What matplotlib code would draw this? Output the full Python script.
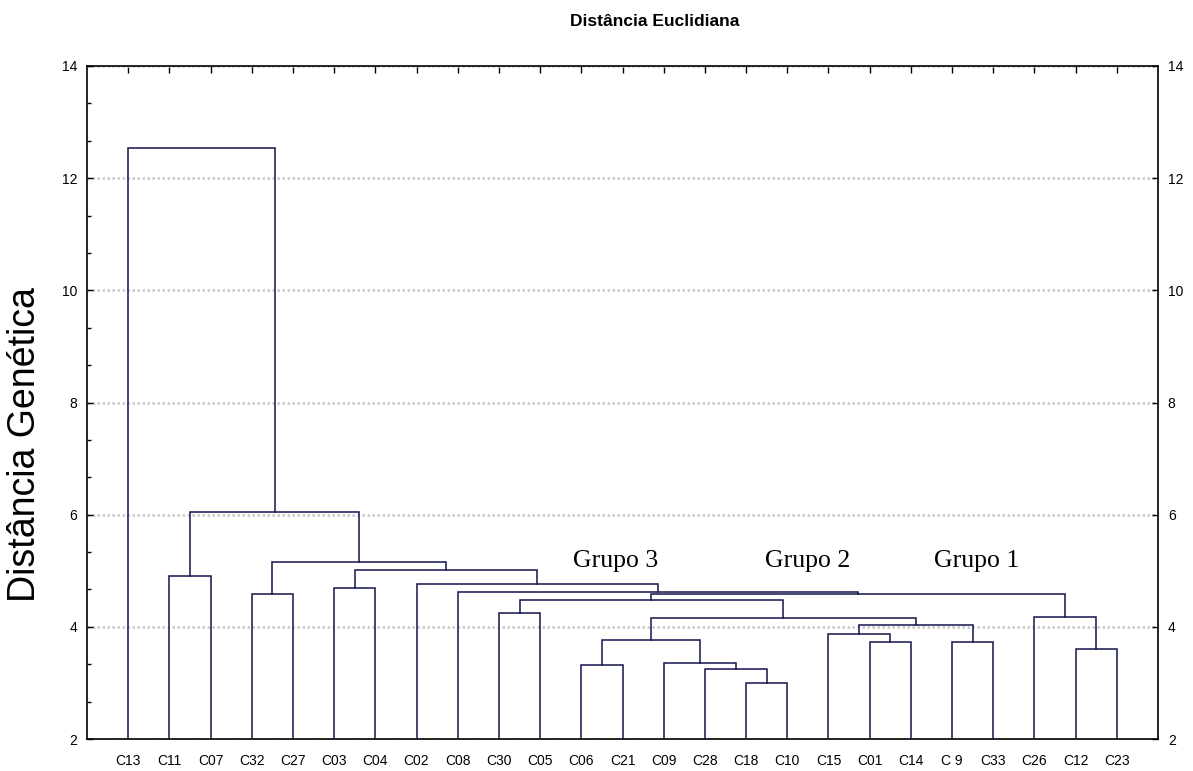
import matplotlib
matplotlib.use("Agg")
import matplotlib.pyplot as plt
from matplotlib.ticker import MultipleLocator

plt.rcParams['font.family'] = ['Liberation Sans', 'DejaVu Sans']

# leaf order as drawn
labels = ['C13', 'C11', 'C07', 'C32', 'C27', 'C03', 'C04', 'C02', 'C08', 'C30',
          'C05', 'C06', 'C21', 'C09', 'C28', 'C18', 'C10', 'C15', 'C01', 'C14',
          'C 9', 'C33', 'C26', 'C12', 'C23']

# merges: (left child, right child, height); new cluster ids start at len(labels)
left_child = [15, 14, 11, 13, 23, 18, 20, 27, 17, 33, 32, 22, 9, 37, 1, 5, 3, 38, 8, 7, 40, 41, 39, 0]
right_child = [16, 25, 12, 26, 24, 19, 21, 28, 30, 31, 34, 29, 10, 35, 2, 6, 4, 36, 42, 43, 44, 45, 46, 47]
heights = [2.99, 3.24, 3.32, 3.35, 3.60, 3.73, 3.73, 3.77, 3.87, 4.03, 4.16, 4.18,
           4.25, 4.48, 4.90, 4.69, 4.58, 4.59, 4.62, 4.76, 5.02, 5.16, 6.04, 12.53]

groups = ['Grupo 3', 'Grupo 2', 'Grupo 1']
group_x = [11.79, 16.46, 20.55]
group_y = 5.07

line_color = '#14144e'

fig = plt.figure(figsize=(11.93, 7.71), dpi=100)
ax = fig.add_axes([0.0729, 0.0415, 0.8978, 0.8729])

n = len(labels)
xs = [i + 1 for i in range(n)]
hs = [0.0] * n
for a, b, h in zip(left_child, right_child, heights):
    ax.plot([xs[a], xs[a], xs[b], xs[b]], [hs[a], h, h, hs[b]],
            color=line_color, lw=1.1, solid_joinstyle='miter', zorder=3)
    xs.append((xs[a] + xs[b]) / 2)
    hs.append(h)

for g, gx in zip(groups, group_x):
    ax.text(gx, group_y, g, family='Liberation Serif', fontsize=18.5,
            ha='left', va='baseline', zorder=4)

ax.set_xlim(0, n + 1)
ax.set_ylim(2, 14)
ax.set_xticks(range(1, n + 1))
ax.set_xticklabels(labels)
ax.set_yticks(range(2, 15, 2))
ax.yaxis.set_minor_locator(MultipleLocator(2 / 3))

ax.grid(axis='y', which='major', color='#c8c8c8', linestyle=(0, (1, 1)), lw=1.8, zorder=0)
ax.set_axisbelow(True)

ax.tick_params(axis='x', which='both', bottom=False, top=True, direction='in',
               length=5, width=1, pad=11, labelsize=10)
ax.tick_params(axis='y', which='major', left=True, right=True, labelleft=True,
               labelright=True, direction='in', length=4, width=1, pad=7, labelsize=10)
ax.tick_params(axis='y', which='minor', left=True, right=False, direction='in',
               length=3, width=1)
for s in ax.spines.values():
    s.set_linewidth(1.2)

fig.text(655 / 1193, 1 - 22 / 771, 'Distância Euclidiana', fontsize=12.5,
         fontweight='bold', ha='center', va='center')
fig.text(25 / 1193, 1 - 445 / 771, 'Distância Genética', fontsize=27,
         rotation=90, ha='center', va='center')

fig.savefig('out.png', dpi=100)
